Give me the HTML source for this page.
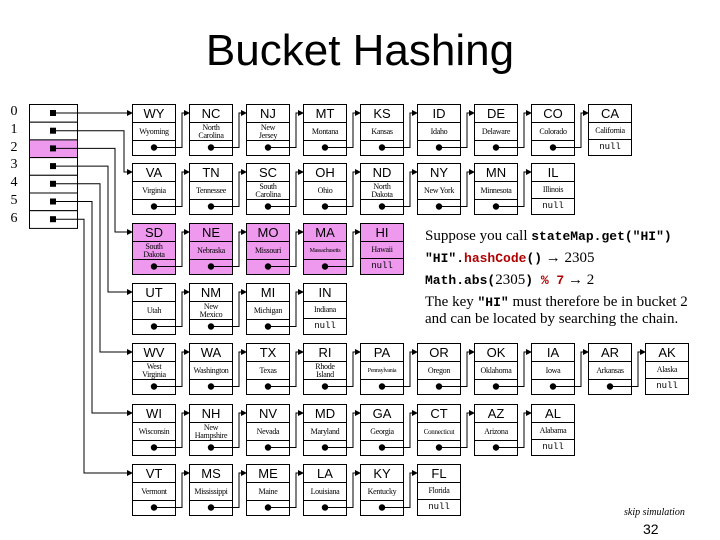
<!DOCTYPE html>
<html><head><meta charset="utf-8"><style>
body{margin:0;width:720px;height:540px;background:#fff;position:relative;overflow:hidden;font-family:"Liberation Sans",sans-serif}
.t{position:absolute;left:0;width:720px;top:26px;text-align:center;font-size:44px;line-height:50px}
.idx{position:absolute;left:8px;font-family:"Liberation Serif",serif;font-size:14px;width:12px;text-align:center}
.row{position:absolute;left:132px;display:flex;gap:13px}
.n{width:44px;height:52px;border:1px solid #000;box-sizing:border-box;background:#fff;display:flex;flex-direction:column}
.p .n{background:#ee99ee}
.a{height:17px;font-size:13px;line-height:17px;text-align:center}
.b{height:17px;border-top:1px solid #000;font-family:"Liberation Serif",serif;font-size:8px;line-height:8px;display:flex;align-items:center;justify-content:center;text-align:center;letter-spacing:-0.3px}
.c{flex:1;border-top:1px solid #000;font-family:"Liberation Mono",monospace;font-size:9px;line-height:15px;text-align:center}
svg{position:absolute;left:0;top:0}
.tx{position:absolute;left:425px;font-family:"Liberation Serif",serif;font-size:15px;line-height:17px;white-space:nowrap}
.m{font-family:"Liberation Mono",monospace;font-weight:bold;font-size:13px}
.r{color:#b00000}
</style></head><body>
<div class="t">Bucket Hashing</div>
<div class="idx" style="top:104px">0</div><div class="idx" style="top:122px">1</div><div class="idx" style="top:140px">2</div><div class="idx" style="top:157px">3</div><div class="idx" style="top:175px">4</div><div class="idx" style="top:193px">5</div><div class="idx" style="top:211px">6</div>
<svg id="s" width="720" height="540"></svg>
<div class="row" style="top:104px"><div class="n"><div class="a">WY</div><div class="b">Wyoming</div><div class="c"></div></div><div class="n"><div class="a">NC</div><div class="b">North<br>Carolina</div><div class="c"></div></div><div class="n"><div class="a">NJ</div><div class="b">New<br>Jersey</div><div class="c"></div></div><div class="n"><div class="a">MT</div><div class="b">Montana</div><div class="c"></div></div><div class="n"><div class="a">KS</div><div class="b">Kansas</div><div class="c"></div></div><div class="n"><div class="a">ID</div><div class="b">Idaho</div><div class="c"></div></div><div class="n"><div class="a">DE</div><div class="b">Delaware</div><div class="c"></div></div><div class="n"><div class="a">CO</div><div class="b">Colorado</div><div class="c"></div></div><div class="n"><div class="a">CA</div><div class="b">California</div><div class="c">null</div></div></div>
<div class="row" style="top:163px"><div class="n"><div class="a">VA</div><div class="b">Virginia</div><div class="c"></div></div><div class="n"><div class="a">TN</div><div class="b">Tennessee</div><div class="c"></div></div><div class="n"><div class="a">SC</div><div class="b">South<br>Carolina</div><div class="c"></div></div><div class="n"><div class="a">OH</div><div class="b">Ohio</div><div class="c"></div></div><div class="n"><div class="a">ND</div><div class="b">North<br>Dakota</div><div class="c"></div></div><div class="n"><div class="a">NY</div><div class="b">New York</div><div class="c"></div></div><div class="n"><div class="a">MN</div><div class="b">Minnesota</div><div class="c"></div></div><div class="n"><div class="a">IL</div><div class="b">Illinois</div><div class="c">null</div></div></div>
<div class="row p" style="top:223px"><div class="n"><div class="a">SD</div><div class="b">South<br>Dakota</div><div class="c"></div></div><div class="n"><div class="a">NE</div><div class="b">Nebraska</div><div class="c"></div></div><div class="n"><div class="a">MO</div><div class="b">Missouri</div><div class="c"></div></div><div class="n"><div class="a">MA</div><div class="b" style="font-size:6px">Massachusetts</div><div class="c"></div></div><div class="n"><div class="a">HI</div><div class="b">Hawaii</div><div class="c">null</div></div></div>
<div class="row" style="top:283px"><div class="n"><div class="a">UT</div><div class="b">Utah</div><div class="c"></div></div><div class="n"><div class="a">NM</div><div class="b">New<br>Mexico</div><div class="c"></div></div><div class="n"><div class="a">MI</div><div class="b">Michigan</div><div class="c"></div></div><div class="n"><div class="a">IN</div><div class="b">Indiana</div><div class="c">null</div></div></div>
<div class="row" style="top:343px"><div class="n"><div class="a">WV</div><div class="b">West<br>Virginia</div><div class="c"></div></div><div class="n"><div class="a">WA</div><div class="b">Washington</div><div class="c"></div></div><div class="n"><div class="a">TX</div><div class="b">Texas</div><div class="c"></div></div><div class="n"><div class="a">RI</div><div class="b">Rhode<br>Island</div><div class="c"></div></div><div class="n"><div class="a">PA</div><div class="b" style="font-size:6px">Pennsylvania</div><div class="c"></div></div><div class="n"><div class="a">OR</div><div class="b">Oregon</div><div class="c"></div></div><div class="n"><div class="a">OK</div><div class="b">Oklahoma</div><div class="c"></div></div><div class="n"><div class="a">IA</div><div class="b">Iowa</div><div class="c"></div></div><div class="n"><div class="a">AR</div><div class="b">Arkansas</div><div class="c"></div></div><div class="n"><div class="a">AK</div><div class="b">Alaska</div><div class="c">null</div></div></div>
<div class="row" style="top:404px"><div class="n"><div class="a">WI</div><div class="b">Wisconsin</div><div class="c"></div></div><div class="n"><div class="a">NH</div><div class="b">New<br>Hampshire</div><div class="c"></div></div><div class="n"><div class="a">NV</div><div class="b">Nevada</div><div class="c"></div></div><div class="n"><div class="a">MD</div><div class="b">Maryland</div><div class="c"></div></div><div class="n"><div class="a">GA</div><div class="b">Georgia</div><div class="c"></div></div><div class="n"><div class="a">CT</div><div class="b" style="font-size:7px">Connecticut</div><div class="c"></div></div><div class="n"><div class="a">AZ</div><div class="b">Arizona</div><div class="c"></div></div><div class="n"><div class="a">AL</div><div class="b">Alabama</div><div class="c">null</div></div></div>
<div class="row" style="top:464px"><div class="n"><div class="a">VT</div><div class="b">Vermont</div><div class="c"></div></div><div class="n"><div class="a">MS</div><div class="b">Mississippi</div><div class="c"></div></div><div class="n"><div class="a">ME</div><div class="b">Maine</div><div class="c"></div></div><div class="n"><div class="a">LA</div><div class="b">Louisiana</div><div class="c"></div></div><div class="n"><div class="a">KY</div><div class="b">Kentucky</div><div class="c"></div></div><div class="n"><div class="a">FL</div><div class="b">Florida</div><div class="c">null</div></div></div>
<svg id="s2" width="720" height="540"></svg>
<div class="tx" style="top:228px">Suppose you call <span class="m">stateMap.get("HI")</span></div>
<div class="tx" style="top:250px"><span class="m">"HI".<span class="r">hashCode</span>()</span> &rarr; 2305</div>
<div class="tx" style="top:272px"><span class="m">Math.abs(</span>2305<span class="m">) <span class="r">% 7</span></span> &rarr; 2</div>
<div class="tx" style="top:294px">The key <span class="m">"HI"</span> must therefore be in bucket 2</div>
<div class="tx" style="top:311px">and can be located by searching the chain.</div>
<div style="position:absolute;left:624px;top:507px;font-family:'Liberation Serif',serif;font-style:italic;font-size:10px">skip simulation</div>
<div style="position:absolute;left:643px;top:521px;font-size:14px">32</div>
<script>
var ns="http://www.w3.org/2000/svg",s=document.getElementById('s'),s2=document.getElementById('s2');
function el(p,t,a){var e=document.createElementNS(ns,t);for(var k in a)e.setAttribute(k,a[k]);p.appendChild(e);return e;}
function ln(p,pts){el(p,'polyline',{points:pts,fill:'none',stroke:'#000','stroke-width':1});}
function arr(p,x,y){el(p,'polygon',{points:(x-6)+','+(y-3)+' '+x+','+y+' '+(x-6)+','+(y+3),fill:'#000'});}
var tops=[104,163,223,283,343,404,464],cnt=[9,8,5,4,10,8,6],vx=[0,124,115,108,100,92,84];
// bucket array
for(var i=0;i<7;i++){var y=104+i*17.7;el(s,'rect',{x:29.5,y:y+.5,width:48,height:17.7,fill:i==2?'#ee99ee':'#fff',stroke:'#000'});}
for(var i=0;i<7;i++){var by=104+i*17.7+9;el(s,'rect',{x:50,y:by-3,width:6,height:6,fill:'#000'});
 var ty=tops[i]+9;
 if(i==0)ln(s,'53,'+by+' 132,'+by);else ln(s,'53,'+by+' '+vx[i]+','+by+' '+vx[i]+','+ty+' 132,'+ty);
 arr(s,133,ty);}
for(var r=0;r<7;r++)for(var c=0;c<cnt[r]-1;c++){var L=132+57*c,T=tops[r];
 var dy=T+43.5;ln(s2,(L+22)+','+dy+' '+(L+50)+','+dy+' '+(L+50)+','+(T+9)+' '+(L+57)+','+(T+9));
 arr(s2,L+58,T+9);el(s2,'circle',{cx:L+22,cy:dy,r:3.2,fill:'#000'});}
</script>
</body></html>
